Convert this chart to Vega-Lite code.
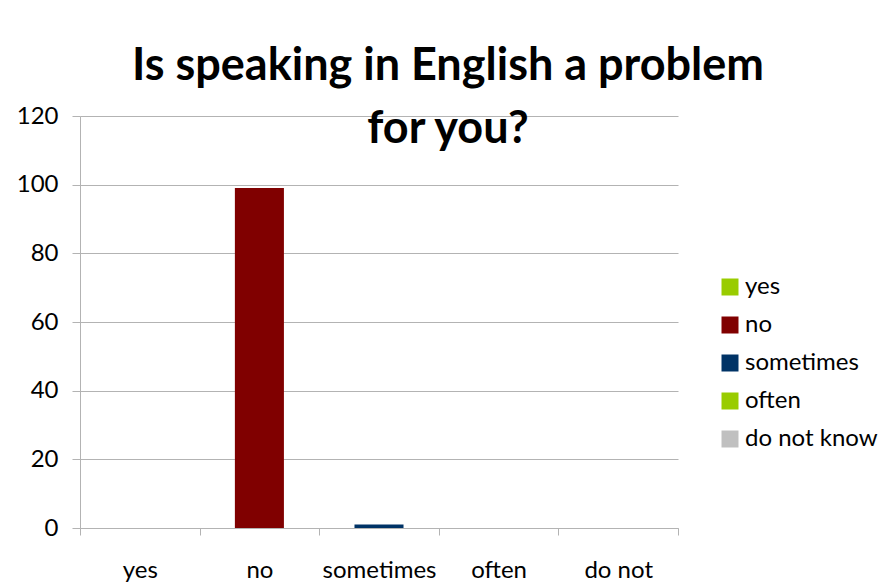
{
  "$schema": "https://vega.github.io/schema/vega-lite/v6.json",
  "autosize": {"type": "none"},
  "width": 598,
  "height": 412,
  "padding": {"left": 80, "top": 116, "right": 208, "bottom": 55},
  "background": "white",
  "title": {
    "text": ["Is speaking in English a problem", "for you?"],
    "font": "Lato",
    "fontSize": 45,
    "fontWeight": "bold",
    "color": "black",
    "lineHeight": 63,
    "anchor": "middle",
    "baseline": "alphabetic",
    "dx": 69,
    "dy": 121,
    "offset": 37
  },
  "data": {
    "values": [
      {"category": "yes", "count": 0},
      {"category": "no", "count": 99},
      {"category": "sometimes", "count": 1},
      {"category": "often", "count": 0},
      {"category": "do not know", "count": 0}
    ]
  },
  "mark": {"type": "bar", "width": {"band": 0.41}},
  "encoding": {
    "x": {
      "field": "category",
      "type": "nominal",
      "sort": null,
      "scale": {"paddingInner": 0, "paddingOuter": 0},
      "axis": {
        "title": null,
        "labelAngle": 0,
        "tickBand": "extent",
        "tickSize": 7,
        "tickColor": "#b3b3b3",
        "domainColor": "#b3b3b3",
        "labelFont": "Lato",
        "labelFontSize": 24,
        "labelColor": "black",
        "labelBaseline": "alphabetic",
        "labelPadding": 42,
        "labelOverlap": false,
        "labelBound": false,
        "labelFlush": false,
        "labelExpr": "datum.label == 'do not know' ? 'do not' : datum.label",
        "grid": false
      }
    },
    "y": {
      "field": "count",
      "type": "quantitative",
      "scale": {"domain": [0, 120], "nice": false},
      "axis": {
        "title": null,
        "values": [0, 20, 40, 60, 80, 100, 120],
        "tickSize": 8,
        "tickColor": "#b3b3b3",
        "domainColor": "#b3b3b3",
        "gridColor": "#b3b3b3",
        "labelFont": "Lato",
        "labelFontSize": 24,
        "labelColor": "black",
        "labelPadding": 14,
        "labelBaseline": "middle",
        "labelFlush": false,
        "labelBound": false
      }
    },
    "color": {
      "field": "category",
      "type": "nominal",
      "sort": null,
      "scale": {
        "domain": ["yes", "no", "sometimes", "often", "do not know"],
        "range": ["#99cc00", "#800000", "#003366", "#99cc00", "#c0c0c0"]
      },
      "legend": {
        "title": null,
        "orient": "none",
        "legendX": 638,
        "legendY": 159,
        "padding": 0,
        "symbolType": "square",
        "symbolSize": 289,
        "symbolStrokeWidth": 0,
        "symbolOpacity": 1,
        "labelFont": "Lato",
        "labelFontSize": 24,
        "labelColor": "black",
        "labelOffset": 3,
        "rowPadding": 14
      }
    }
  },
  "config": {
    "view": {"stroke": null},
    "axis": {"domainWidth": 1, "tickWidth": 1, "gridWidth": 1}
  }
}
